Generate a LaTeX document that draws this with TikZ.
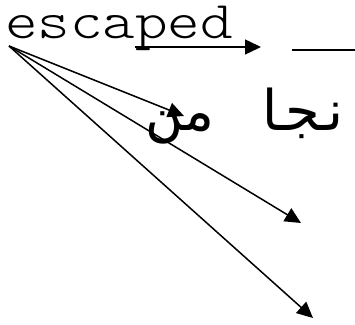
\documentclass[tikz,border=0pt]{standalone}
\usepackage{fontspec}
\newfontfamily\courierish[FakeStretch=1.17]{Latin Modern Mono Light}
\newfontfamily\arabicmono[Script=Arabic]{DejaVu Sans Mono}
\TeXXeTstate=1
\usetikzlibrary{arrows.meta}
\tikzset{
  lbl/.style={inner sep=0pt, text height=32pt, text depth=9pt, font=\courierish\fontsize{53}{60}\selectfont},
  arlbl/.style={inner sep=0pt, text height=30pt, text depth=12pt, font=\arabicmono\fontsize{56}{60}\selectfont},
  conn/.style={line width=1.5pt, -{Triangle[length=16pt,width=15pt]}},
  bar/.style={line width=2.8pt}
}
\begin{document}
\begin{tikzpicture}[x=1pt,y=-1pt]
\useasboundingbox (0,0) rectangle (355,324);
\node[lbl, anchor=base west] (esc) at (5,38) {escaped};
\node[arlbl, anchor=base east] (ar) at (353,130) {\beginR نجا من\endR};
\coordinate (o) at (9,46);
\coordinate (s1) at (135,47);
\coordinate (e1) at (261,47);
\coordinate (t1) at (184,116);
\coordinate (t2) at (301,223);
\coordinate (t3) at (313,318);
\coordinate (h1) at (292,50);
\coordinate (h2) at (355,50);
\draw[conn] (s1) -- (e1);
\draw[conn] (o) -- (t1);
\draw[conn] (o) -- (t2);
\draw[conn] (o) -- (t3);
\draw[bar] (h1) -- (h2);
\end{tikzpicture}
\end{document}
